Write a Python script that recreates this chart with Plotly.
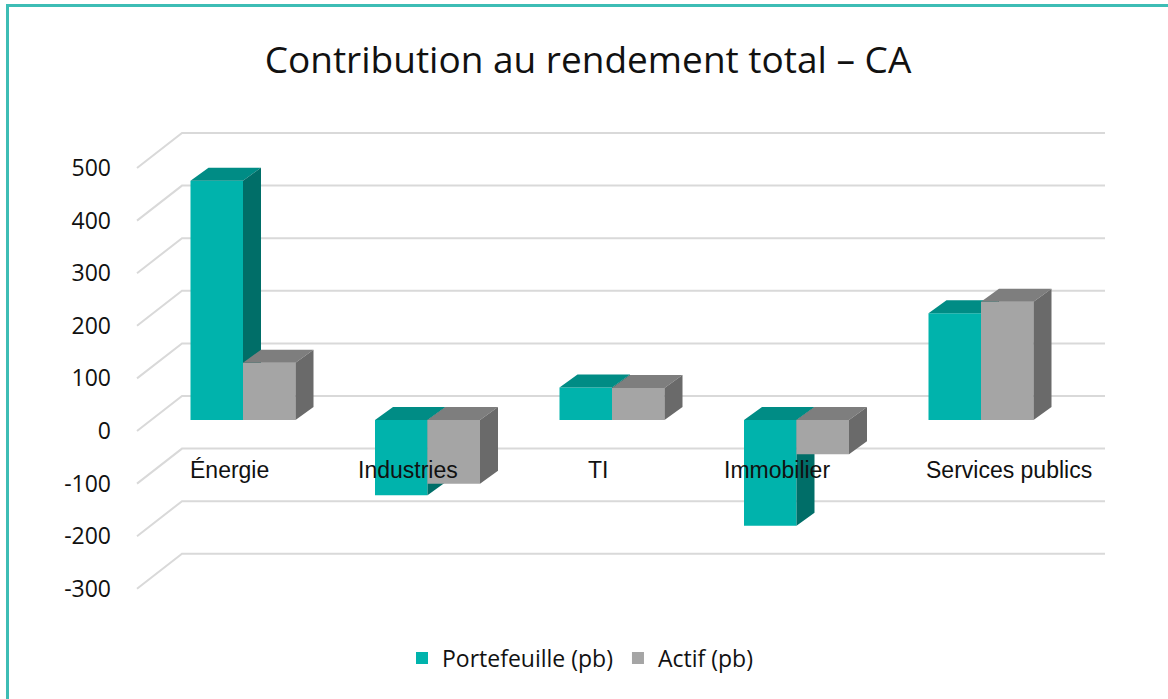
import plotly.graph_objects as go

# ---------------- data ----------------
categories = ["Énergie", "Industries", "TI", "Immobilier", "Services publics"]
portefeuille = [455, -143, 62, -201, 203]
actif = [109, -121, 61, -65, 225]
y_ticks = [500, 400, 300, 200, 100, 0, -100, -200, -300]
series_names = ["Portefeuille (pb)", "Actif (pb)"]

# ---------------- style / geometry ----------------
W, H = 1168, 699
ML, MR, MT, MB = 118, 48, 110, 89
PX_PER_CAT = 184.5          # pixels per category unit
PX_PER_VAL = 0.526          # pixels per value unit
X0_PX, Y0_PX = 243, 420     # pixel of category 0 divider / zero level (bar front plane)

plot_w = W - ML - MR
plot_h = H - MT - MB
x_range = [(ML - X0_PX) / PX_PER_CAT, (W - MR - X0_PX) / PX_PER_CAT]
y_range = [-(MT + plot_h - Y0_PX) / PX_PER_VAL, (Y0_PX - MT) / PX_PER_VAL]

bar_w = 52.5 / PX_PER_CAT
bar_dx = 18 / PX_PER_CAT
bar_dy = 13 / PX_PER_VAL
wall_dy = 24 / PX_PER_VAL          # back wall above bar front plane
floor_dy = -11 / PX_PER_VAL        # front floor edge below bar front plane
wall_left = (182 - X0_PX) / PX_PER_CAT
front_left = (137 - X0_PX) / PX_PER_CAT
grid_right = (1105 - X0_PX) / PX_PER_CAT
label_shift = -14 / PX_PER_CAT

teal = dict(front="#00B3AC", top="#008C85", side="#006E68")
grey = dict(front="#A5A5A5", top="#7E7E7E", side="#6A6A6A")
font_main = "Open Sans"

fig = go.Figure()

# gridlines (base axes x/y)
gx, gy = [], []
for v in y_ticks:
    gx += [front_left, wall_left, grid_right, None]
    gy += [v + floor_dy, v + wall_dy, v + wall_dy, None]
fig.add_trace(go.Scatter(x=gx, y=gy, mode="lines", line=dict(color="#D9D9D9", width=2),
                         hoverinfo="skip", showlegend=False, xaxis="x", yaxis="y"))


def add_series(vals, offset, colors, name, xa, ya):
    tops_x, tops_y, side_x, side_y = [], [], [], []
    xs = []
    for i, v in enumerate(vals):
        xl = i + offset
        xr = xl + bar_w
        y_lo, y_hi = min(0, v), max(0, v)
        tops_x += [xl, xr, xr + bar_dx, xl + bar_dx, xl, None]
        tops_y += [y_hi, y_hi, y_hi + bar_dy, y_hi + bar_dy, y_hi, None]
        side_x += [xr, xr + bar_dx, xr + bar_dx, xr, xr, None]
        side_y += [y_lo, y_lo + bar_dy, y_hi + bar_dy, y_hi, y_lo, None]
        xs.append(xl + bar_w / 2)
    fig.add_trace(go.Bar(x=xs, y=vals, base=0, width=bar_w, name=name,
                         marker=dict(color=colors["front"], line=dict(width=0)),
                         xaxis=xa, yaxis=ya, hoverinfo="y"))
    fig.add_trace(go.Scatter(x=tops_x, y=tops_y, mode="lines", fill="toself",
                             fillcolor=colors["top"], line=dict(width=0, color=colors["top"]),
                             hoverinfo="skip", showlegend=False, xaxis=xa, yaxis=ya))
    fig.add_trace(go.Scatter(x=side_x, y=side_y, mode="lines", fill="toself",
                             fillcolor=colors["side"], line=dict(width=0, color=colors["side"]),
                             hoverinfo="skip", showlegend=False, xaxis=xa, yaxis=ya))


add_series(portefeuille, -bar_w, teal, series_names[0], "x2", "y2")
add_series(actif, 0, grey, series_names[1], "x3", "y3")

# category labels
annotations = []
for i, c in enumerate(categories):
    annotations.append(dict(x=i + label_shift, y=-95, xref="x", yref="y", text=c,
                            showarrow=False, xanchor="center", yanchor="middle",
                            xshift=42 if i == len(categories) - 1 else (-6 if i in (1, 3) else 0),
                            font=dict(family="Liberation Sans", size=23, color="#111111")))

axis_common = dict(range=x_range, showgrid=False, zeroline=False, showticklabels=False,
                   showline=False, fixedrange=True)
yaxis_hidden = dict(range=y_range, showgrid=False, zeroline=False, showticklabels=False,
                    showline=False, fixedrange=True)

def px_to_paper_x(px):
    return (px - ML) / plot_w

def px_to_paper_y(py):
    return (MT + plot_h - py) / plot_h

border = "#3DBDB5"
shapes = [
    dict(type="line", xref="paper", yref="paper", x0=px_to_paper_x(7), x1=px_to_paper_x(W + 5),
         y0=px_to_paper_y(5.5), y1=px_to_paper_y(5.5), line=dict(color=border, width=3)),
    dict(type="line", xref="paper", yref="paper", x0=px_to_paper_x(7.5), x1=px_to_paper_x(7.5),
         y0=px_to_paper_y(4), y1=px_to_paper_y(H + 5), line=dict(color=border, width=3)),
]

fig.update_layout(
    width=W, height=H, autosize=False,
    margin=dict(l=ML, r=MR, t=MT, b=MB),
    paper_bgcolor="white", plot_bgcolor="white",
    barmode="overlay",
    title=dict(text="Contribution au rendement total – CA", x=588 / W, xref="container",
               xanchor="center", y=1 - 60 / H, yref="container", yanchor="middle",
               font=dict(family=font_main, size=37, color="#111111")),
    xaxis=dict(**axis_common),
    xaxis2=dict(**axis_common, overlaying="x"),
    xaxis3=dict(**axis_common, overlaying="x"),
    yaxis=dict(range=y_range, showgrid=False, zeroline=False, showline=False, fixedrange=True,
               tickmode="array", tickvals=[v + floor_dy for v in y_ticks],
               ticktext=[str(v) for v in y_ticks], ticklabelstandoff=6,
               tickfont=dict(family=font_main, size=23, color="#111111")),
    yaxis2=dict(**yaxis_hidden, overlaying="y"),
    yaxis3=dict(**yaxis_hidden, overlaying="y"),
    legend=dict(orientation="h", x=px_to_paper_x(580), y=px_to_paper_y(658),
                xanchor="center", yanchor="middle",
                font=dict(family=font_main, size=23, color="#111111"),
                itemclick=False, itemdoubleclick=False),
    annotations=annotations,
    shapes=shapes,
    showlegend=True,
)

fig.write_html("out.html", config={"displayModeBar": False},
               post_script="document.body.style.margin='0';document.body.style.overflow='hidden';")
